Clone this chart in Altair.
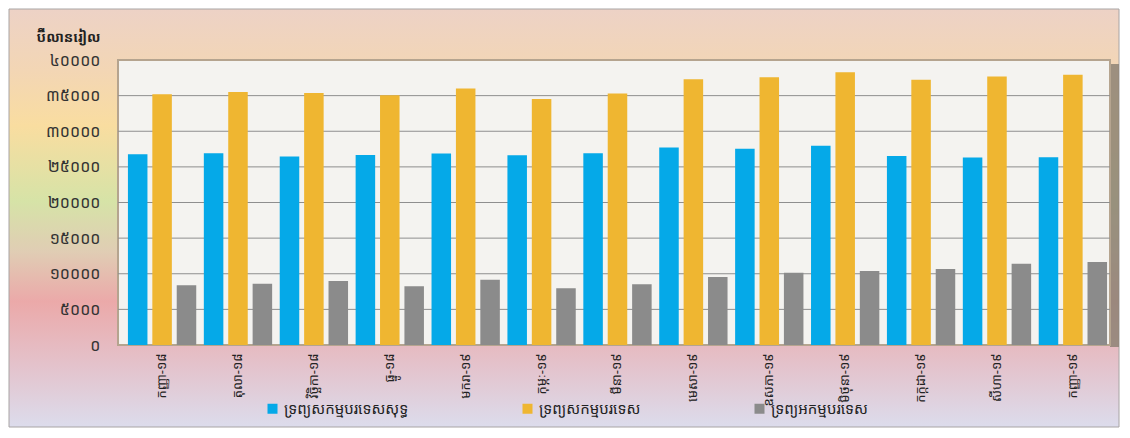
import altair as alt
import pandas as pd

# ---- data ----
months = ["កញ្ញា-១៨", "តុលា-១៨", "វិច្ឆិកា-១៨", "ធ្នូ-១៨", "មករា-១៩", "កុម្ភៈ-១៩",
          "មីនា-១៩", "មេសា-១៩", "ឧសភា-១៩", "មិថុនា-១៩", "កក្កដា-១៩", "សីហា-១៩", "កញ្ញា-១៩"]
series = ["ទ្រព្យសកម្មបរទេសសុទ្ធ", "ទ្រព្យសកម្មបរទេស", "ទ្រព្យអកម្មបរទេស"]
net_foreign_assets = [26780, 26900, 26460, 26680, 26880, 26640, 26900, 27710, 27530, 27950, 26540, 26310, 26360]
foreign_assets = [35200, 35500, 35360, 35040, 36000, 34520, 35300, 37300, 37580, 38290, 37220, 37680, 37920]
foreign_liabilities = [8370, 8610, 8980, 8230, 9170, 7960, 8530, 9550, 10150, 10390, 10670, 11420, 11660]
y_tick_values = [0, 5000, 10000, 15000, 20000, 25000, 30000, 35000, 40000]
y_tick_labels = ["០", "៥០០០", "១០០០០", "១៥០០០", "២០០០០", "២៥០០០", "៣០០០០", "៣៥០០០", "៤០០០០"]
y_title = "ប៊ីលានរៀល"

colors = ["#05a9e8", "#efb631", "#8b8b8b"]
FONT = "Khmer OS, Noto Sans Khmer, Khmer OS System, Noto Sans, DejaVu Sans"

W, H = 992, 285
PAD = {"left": 110, "top": 52, "right": 10, "bottom": 83}

rows = []
for i, m in enumerate(months):
    for s, vals in zip(series, [net_foreign_assets, foreign_assets, foreign_liabilities]):
        rows.append({"month": m, "series": s, "value": vals[i]})
df = pd.DataFrame(rows)
grid_df = pd.DataFrame({"value": y_tick_values[1:-1]})
one = pd.DataFrame({"k": [0]})

yscale = alt.Scale(domain=[0, 40000], nice=False)

label_expr = "[{}][indexof([{}], datum.value)]".format(
    ",".join("'" + l + "'" for l in y_tick_labels), ",".join(str(v) for v in y_tick_values))

y_axis = alt.Axis(values=y_tick_values, labelExpr=label_expr, grid=False, ticks=False, domain=False,
                  labelFontSize=16, labelColor="#333333", labelFont=FONT, labelPadding=18,
                  title=y_title, titleAngle=0, titleAlign="right", titleBaseline="middle",
                  titleX=-18, titleY=-23, titleFontSize=14, titleFont=FONT, titleColor="#222222",
                  titleFontWeight="bold", zindex=2)

bg_gradient = alt.LinearGradient(
    gradient="linear", x1=0, y1=0, x2=0, y2=1,
    stops=[
        alt.GradientStop(offset=0.0, color="#edd2c6"),
        alt.GradientStop(offset=0.15, color="#f3d6b4"),
        alt.GradientStop(offset=0.28, color="#f9dda0"),
        alt.GradientStop(offset=0.46, color="#d6e3a7"),
        alt.GradientStop(offset=0.58, color="#e0cdb4"),
        alt.GradientStop(offset=0.70, color="#eba9a9"),
        alt.GradientStop(offset=0.85, color="#e4c2cb"),
        alt.GradientStop(offset=1.0, color="#dcdcec"),
    ])

background = alt.Chart(one).mark_rect(fill=bg_gradient, stroke="#a8a4a4", strokeWidth=1).encode(
    x=alt.value(-PAD["left"] + 1), x2=alt.value(W + PAD["right"] - 1),
    y=alt.value(-PAD["top"] + 1), y2=alt.value(H + PAD["bottom"] - 1))

shadow = alt.Chart(one).mark_rect(fill="#8d8275", opacity=0.85).encode(
    x=alt.value(W), x2=alt.value(W + 9), y=alt.value(4), y2=alt.value(H + 2))

plot_area = alt.Chart(one).mark_rect(fill="#f4f3f0", stroke="#b5a48f", strokeWidth=2).encode(
    x=alt.value(0), x2=alt.value(W), y=alt.value(0), y2=alt.value(H))

grid = alt.Chart(grid_df).mark_rule(color="#8e8e8e", strokeWidth=1).encode(
    y=alt.Y("value:Q", scale=yscale, axis=y_axis), x=alt.value(0), x2=alt.value(W))

bars = alt.Chart(df).mark_bar().encode(
    x=alt.X("month:N", sort=months, title=None,
            scale=alt.Scale(paddingInner=0.1, paddingOuter=0.085, align=0.77),
            axis=alt.Axis(labelAngle=-90, labelFontSize=13, labelColor="#222222", labelFont=FONT,
                          labelPadding=8, ticks=False, domain=False, labelLimit=200, zindex=2)),
    xOffset=alt.XOffset("series:N", sort=series, scale=alt.Scale(paddingInner=0.2, paddingOuter=0)),
    y=alt.Y("value:Q", scale=yscale, axis=y_axis),
    color=alt.Color("series:N", sort=series, scale=alt.Scale(domain=series, range=colors),
                    legend=alt.Legend(orient="none", legendX=147, legendY=341, direction="horizontal",
                                      title=None, symbolType="square", symbolSize=100, symbolStrokeWidth=0,
                                      labelFontSize=15, labelFont=FONT, labelColor="#222222",
                                      columnPadding=111, padding=0, labelOffset=4)),
)

chart = alt.layer(background, shadow, plot_area, grid, bars).properties(
    width=W, height=H, padding=PAD,
    autosize=alt.AutoSizeParams(type="none"),
).configure_view(stroke="transparent").configure(background="white")

chart.save("out.html", embed_options={"renderer": "svg", "actions": False})
